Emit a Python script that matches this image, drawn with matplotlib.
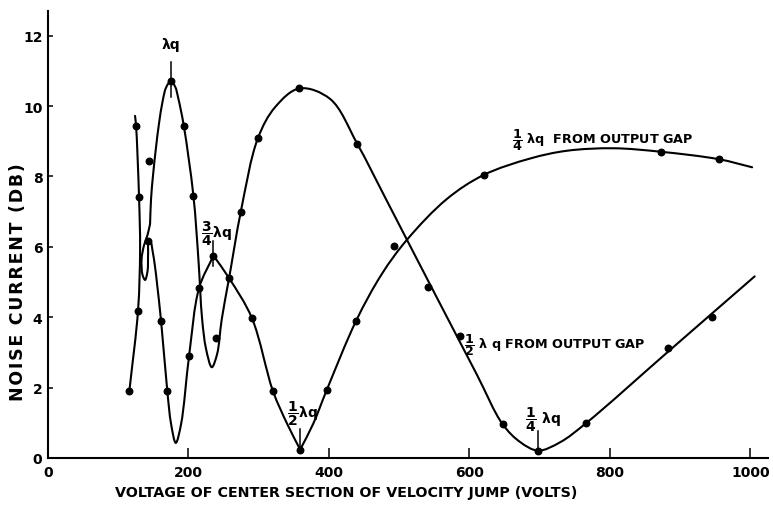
import numpy as np
import matplotlib
matplotlib.use("Agg")
import matplotlib.pyplot as plt
from matplotlib.path import Path
from matplotlib.patches import PathPatch

plt.rcParams['font.family'] = ['DejaVu Sans']
plt.rcParams['font.weight'] = 'bold'
plt.rcParams['mathtext.fontset'] = 'custom'
plt.rcParams['mathtext.rm'] = 'DejaVu Sans:bold'
plt.rcParams['mathtext.it'] = 'DejaVu Sans:bold'
plt.rcParams['mathtext.bf'] = 'DejaVu Sans:bold'

# traced course of each drawn curve (volts, dB)
stub_v = [115.8, 128.2, 131.1, 129.6, 125.4, 123.9]
stub_db = [1.90, 4.20, 5.94, 7.41, 9.43, 9.72]

half_v = [145.3, 146.7, 149.6, 153.8, 158.0, 163.4, 168.0, 174.8, 181.0, 185.7,
          193.3, 207.0, 214.1, 219.4, 225.0, 233.2, 240.7, 247.4, 257.8, 274.5,
          298.7, 323.4, 358.0, 401.7, 440.2, 480.0, 511.0, 560.0, 610.0, 647.2,
          672.4, 697.6, 729.3, 766.0, 885.0, 1006.0]
half_db = [6.65, 7.36, 8.05, 8.83, 9.50, 10.16, 10.52, 10.71, 10.55, 10.20,
           9.44, 7.45, 5.65, 3.95, 3.10, 2.58, 2.95, 3.95, 5.11, 7.00,
           9.08, 9.97, 10.50, 10.20, 8.93, 7.40, 6.20, 4.31, 2.39, 0.96,
           0.45, 0.21, 0.45, 0.99, 3.06, 5.16]

quarter_v = [145.3, 141.7, 136.8, 133.2, 134.6, 138.2, 141.7, 142.5, 143.2, 146.0,
             148.9, 152.4, 155.3, 161.0, 169.9, 175.2, 181.9, 189.5, 200.9, 215.1,
             235.5, 257.8, 290.2, 320.1, 340.5, 359.0, 377.5, 397.0, 438.7,
             475.0, 511.0, 567.9, 620.1, 686.6, 738.9, 805.3, 872.8, 954.8, 1002.4]
quarter_db = [6.65, 6.34, 6.05, 5.65, 5.20, 5.06, 5.31, 5.80, 6.11, 6.14,
              5.88, 5.43, 4.94, 3.89, 1.89, 0.97, 0.43, 0.97, 2.91, 4.83,
              5.75, 5.11, 3.98, 1.91, 0.97, 0.24, 0.97, 1.94, 3.90,
              5.22, 6.20, 7.36, 8.04, 8.51, 8.73, 8.80, 8.70, 8.49, 8.26]
# the quarter curve is drawn with a sharp point at the 3/4 peak and 1/2 dip
quarter_corners = [20, 25]

# measured points
dots_v = [125.4, 129.6, 143.4, 174.8, 193.3, 207.0, 235.5, 274.5, 298.7, 358.0,
          440.2, 491.9, 620.1, 872.8, 954.8, 115.8, 128.6, 142.9, 161.0, 169.9,
          201.3, 215.1, 239.3, 257.8, 290.2, 320.1, 359.0, 397.0, 438.7, 540.9,
          585.9, 647.2, 697.6, 766.0, 882.2, 945.4]
dots_db = [9.43, 7.41, 8.45, 10.71, 9.44, 7.45, 5.75, 7.00, 9.08, 10.50,
           8.93, 6.01, 8.04, 8.70, 8.49, 1.91, 4.18, 6.16, 3.88, 1.89,
           2.91, 4.83, 3.42, 5.11, 3.98, 1.91, 0.24, 1.94, 3.90, 4.87,
           3.46, 0.97, 0.21, 0.99, 3.12, 4.01]

x_ticks = [0, 200, 400, 600, 800, 1000]
y_ticks = [0, 2, 4, 6, 8, 10, 12]

# wavelength markers: label, volts, dB of the marked point
markers = [
    ('λq', 174.8, 10.71),
    (r'$\dfrac{3}{4}$λq', 235.5, 5.75),
    (r'$\dfrac{1}{2}$λq', 359.0, 0.24),
    (r'$\dfrac{1}{4}$ λq', 697.6, 0.21),
]


def smooth_path(ax, xs, ys, corners=(), alpha=0.5):
    # centripetal Catmull-Rom laid out in screen space, drawn as cubic Beziers;
    # the curve is restarted at each corner index so the point stays sharp
    to_px = ax.transData
    pts = to_px.transform(np.column_stack([xs, ys]))
    cuts = [0] + list(corners) + [len(pts) - 1]
    verts, codes = [], []
    for a, b in zip(cuts[:-1], cuts[1:]):
        p = pts[a:b + 1]
        p = np.vstack([2 * p[0] - p[1], p, 2 * p[-1] - p[-2]])
        if not verts:
            verts.append(p[1])
            codes.append(Path.MOVETO)
        for i in range(1, len(p) - 2):
            p0, p1, p2, p3 = p[i - 1], p[i], p[i + 1], p[i + 2]
            d0 = max(np.linalg.norm(p1 - p0) ** alpha, 1e-6)
            d1 = max(np.linalg.norm(p2 - p1) ** alpha, 1e-6)
            d2 = max(np.linalg.norm(p3 - p2) ** alpha, 1e-6)
            m1 = d1 * ((p1 - p0) / d0 - (p2 - p0) / (d0 + d1) + (p2 - p1) / d1)
            m2 = d1 * ((p2 - p1) / d1 - (p3 - p1) / (d1 + d2) + (p3 - p2) / d2)
            verts += [p1 + m1 / 3, p2 - m2 / 3, p2]
            codes += [Path.CURVE4] * 3
    return Path(to_px.inverted().transform(np.array(verts)), codes)


fig = plt.figure(figsize=(7.73, 5.06), dpi=100)
ax = fig.add_axes([48 / 773, 1 - 459 / 506, 720 / 773, 447 / 506])
ax.set_xlim(0, 1025)
ax.set_ylim(0, 12.7)

curves = [(stub_v, stub_db, ()), (half_v, half_db, ()),
          (quarter_v, quarter_db, quarter_corners)]
for xs, ys, corners in curves:
    ax.add_patch(PathPatch(smooth_path(ax, xs, ys, corners), facecolor='none',
                           edgecolor='black', lw=1.5, capstyle='round',
                           joinstyle='miter'))

ax.scatter(dots_v, dots_db, s=22, color='black', zorder=3)

ax.set_xticks(x_ticks)
ax.set_yticks(y_ticks)
ax.tick_params(axis='x', direction='in', length=7.5, width=1.1, pad=5,
               labelsize=10)
ax.tick_params(axis='y', direction='in', length=3.5, width=1.1, pad=4,
               labelsize=10)
for s in ['top', 'right']:
    ax.spines[s].set_visible(False)
for s in ['left', 'bottom']:
    ax.spines[s].set_linewidth(1.5)

# vertical tick marks over the wavelength points
tick_spans = [(0.45, 0.55), (0.30, 0.42), (0.0, 0.58), (0.0, 0.55)]
label_pos = [(174.8, 11.76), (240.5, 6.40), (362.0, 1.28), (704.0, 1.10)]
for (lab, v, db), (lo, hi), (tx, ty) in zip(markers, tick_spans, label_pos):
    ax.plot([v, v], [db - lo, db + hi], color='black', lw=1.1)
    ax.text(tx, ty, lab, ha='center', va='center', fontsize=10)

ax.text(592, 3.24, r'$\dfrac{1}{2}$ λ q FROM OUTPUT GAP',
        ha='left', va='center', fontsize=9.2)
ax.text(661, 9.06, r'$\dfrac{1}{4}$ λq  FROM OUTPUT GAP',
        ha='left', va='center', fontsize=9.2)

fig.text(346 / 773, 1 - 493 / 506,
         'VOLTAGE OF CENTER SECTION OF VELOCITY JUMP (VOLTS)',
         ha='center', va='center', fontsize=10.3)
ylab = '\u200a'.join('NOISE CURRENT (DB)')
fig.text(18 / 773, 1 - 282 / 506, ylab, rotation=90,
         ha='center', va='center', fontsize=12.5)

fig.savefig('out.png', dpi=100)
